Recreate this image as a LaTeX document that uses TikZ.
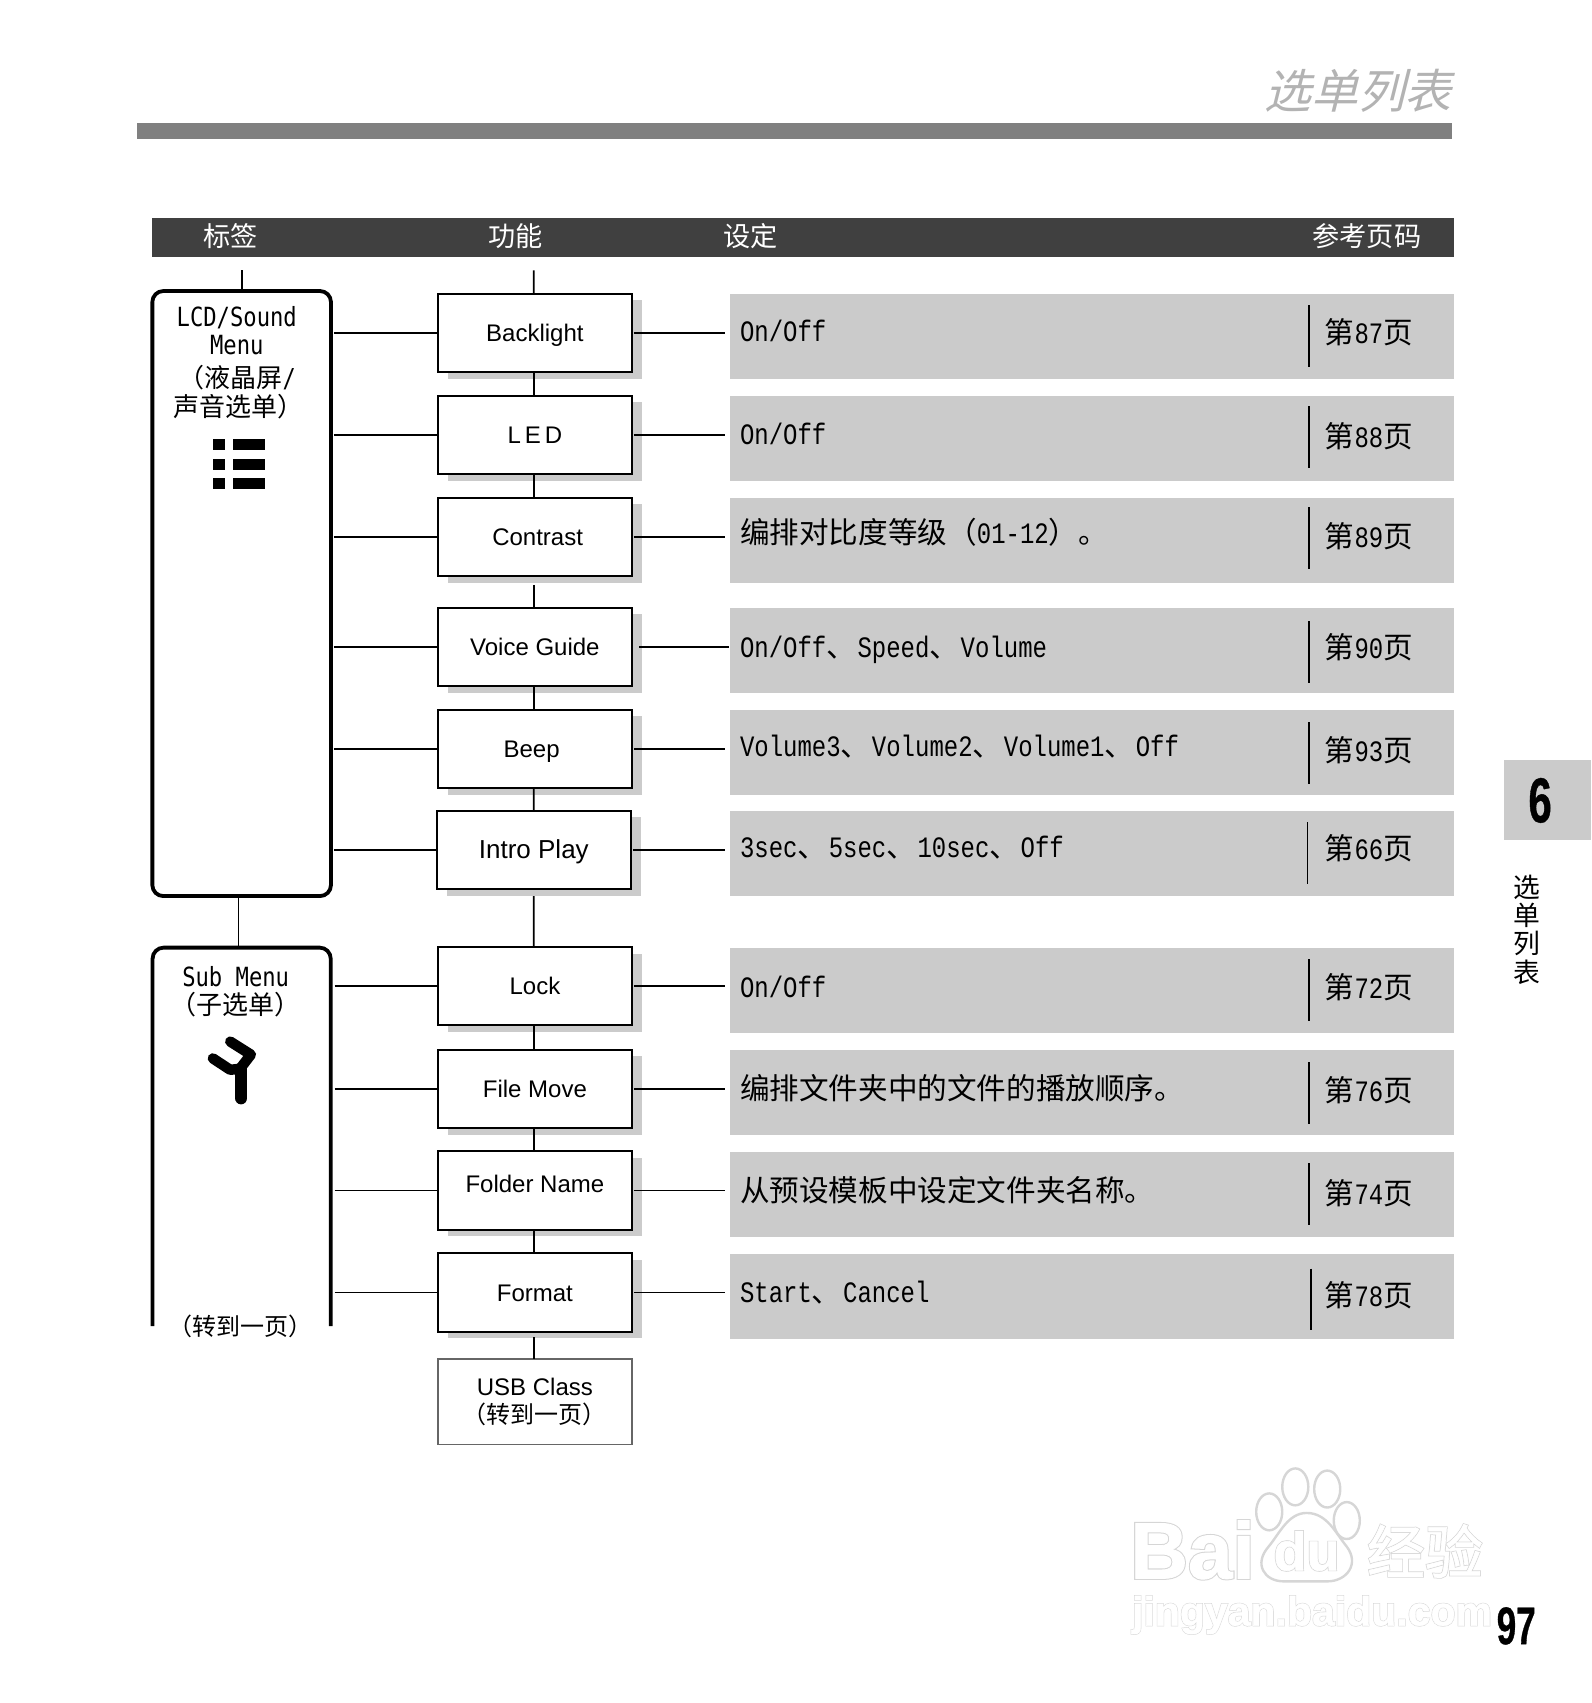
\documentclass[tikz,border=0pt]{standalone}
\usepackage{fontspec}
\usepackage{xcolor}
\usetikzlibrary{positioning,shadows}
\setmainfont{Liberation Sans}
\newfontfamily\cjkfont{Noto Sans CJK SC}
\newfontfamily\slantfont[FakeSlant=0.25]{Noto Sans CJK SC}
\newfontfamily\rowfont[FakeStretch=0.81]{Liberation Mono}
\newfontfamily\sidefont[FakeStretch=0.84]{DejaVu Sans Mono}
\newfontfamily\narrowfont[FakeStretch=0.66,FakeBold=0.6]{Liberation Sans Bold}
\newfontfamily\markfat[FakeBold=3.6]{Liberation Sans Bold}
\newfontfamily\markthin[FakeBold=1]{Liberation Sans Bold}
\newfontfamily\markcjkfat[FakeBold=3.6]{Noto Sans CJK SC}
\newfontfamily\markcjkthin[FakeBold=1]{Noto Sans CJK SC}
\definecolor{headgray}{HTML}{404040}
\definecolor{bargray}{HTML}{808080}
\definecolor{titlegray}{HTML}{B3B3B3}
\definecolor{rowgray}{HTML}{CBCBCB}
\definecolor{usbgray}{HTML}{666666}
\definecolor{markgray}{HTML}{D6D6D6}
\newcommand{\dun}{{\cjkfont 、}\hspace{0.8pt}}
\newcommand{\pg}[1]{\cjkfont 第{\rowfont #1}页}
\tikzset{
  conn/.style={line width=0.85pt},
  menubox/.style={draw,line width=1.9pt,rounded corners=5.5pt,inner sep=0pt,outer sep=0pt,minimum width=89.3pt},
  funcbox/.style={draw,fill=white,line width=1.05pt,inner sep=0pt,outer sep=0pt,minimum width=97pt,minimum height=39.2pt,
    text height=8.6pt,text depth=0pt,font=\fontsize{12}{14}\selectfont,
    general shadow={fill=rowgray,shadow xshift=4.9pt,shadow yshift=-3.3pt}},
  rowbox/.style={fill=rowgray,inner sep=0pt,outer sep=0pt,minimum width=362.2pt,minimum height=42.4pt},
  rowtext/.style={anchor=west,inner sep=0pt,text height=10pt,text depth=0pt,font=\fontsize{14.8}{18}\selectfont\rowfont},
  pagetext/.style={anchor=west,inner sep=0pt,text height=10pt,text depth=0pt,font=\fontsize{14.8}{18}\selectfont},
  pageline/.style={line width=0.8pt},
  headtext/.style={text=white,inner sep=0pt,font=\fontsize{13.6}{16}\selectfont\cjkfont},
  sidetext/.style={inner sep=0pt,text height=10pt,text depth=0pt,font=\fontsize{13.2}{16}\selectfont\sidefont},
  sidecjk/.style={anchor=west,inner sep=0pt,font=\fontsize{13}{16}\selectfont\cjkfont},
  fatmark/.style={text=markgray,inner sep=0pt},
  thinmark/.style={text=white,inner sep=0pt}
}
\begin{document}
\begin{tikzpicture}[x=0.543pt,y=-0.543pt]
  \useasboundingbox (0,0) rectangle (1465,1568);
  % page title and header
  \node[anchor=east,inner sep=0pt,text=titlegray,font=\fontsize{23.4}{26}\selectfont\slantfont] (pagetitle) at (1337,84) {选单列表};
  \fill[bargray] (126,113) rectangle (1337,128);
  \fill[headgray] (140,201) rectangle (1339,237);
  \node[headtext] (headtab) at (212,217) {标签};
  \node[headtext] (headfunc) at (475,217) {功能};
  \node[headtext] (headset) at (691,217) {设定};
  \node[headtext] (headpage) at (1258.5,217) {参考页码};

  % left menus
  \node[menubox,minimum height=302.5pt] (lcd) at (222.5,546.5) {};
  \draw[line width=1.9pt,rounded corners=5.5pt] (140.5,1221) -- (140.5,872.5) -- (304.5,872.5) -- (304.5,1221);
  \coordinate (tabtick) at (222.5,249);
  \coordinate (functick) at (491.5,249);
  \coordinate (subtop) at (219.5,872);
  \coordinate (subedge) at (308,907);
  \draw[conn] (tabtick) -- (lcd.north -| tabtick);
  \draw[conn] (lcd.south -| subtop) -- (subtop);

  \node[sidetext] (lcdA) at (218,291) {LCD/Sound};
  \node[sidetext] (lcdB) at (218,317) {Menu};
  \node[sidecjk] (lcdC) at (164,348) {（液晶屏{\sidefont /}};
  \node[sidecjk] (lcdD) at (159,374) {声音选单）};
  \fill (196,404) rectangle (207.5,414);
  \fill (214.5,404) rectangle (244,414);
  \fill (196,423) rectangle (207.5,433);
  \fill (214.5,423) rectangle (244,433);
  \fill (196,440) rectangle (207.5,450);
  \fill (214.5,440) rectangle (244,450);

  \node[sidetext] (subA) at (217,899) {Sub Menu};
  \node[sidecjk] (subB) at (157,925) {（子选单）};
  \draw[line width=5.2pt,line cap=round,line join=round] (212,959) -- (231,971) -- (221,984) -- (212,985) -- (196,974.5);
  \draw[line width=6.3pt,line cap=round] (222,984) -- (222,1011);
  \node[sidecjk,font=\fontsize{12}{14}\selectfont\cjkfont] (subC) at (155,1221) {（转到一页）};

  % function boxes
  \node[funcbox] (backlight) at (492.5,306.5) {Backlight};
  \node[funcbox] (led) at (492.5,400.5) {L\,E\,D};
  \node[funcbox] (contrast) at (492.5,494.5) {\hspace*{2.7pt}Contrast};
  \node[funcbox] (voice) at (492.5,595.5) {Voice Guide};
  \node[funcbox] (beep) at (492.5,689.5) {Beep\hspace*{3.3pt}};
  \node[funcbox,font=\fontsize{13}{15}\selectfont] (intro) at (491.5,782.5) {Intro Play};
  \node[funcbox] (lock) at (492.5,908) {Lock};
  \node[funcbox] (filemove) at (492.5,1002.5) {File Move};
  \node[funcbox,text depth=6.6pt] (folder) at (492.5,1096) {Folder Name};
  \node[funcbox] (format) at (492.5,1190) {Format};
  \node[draw=usbgray,line width=0.9pt,inner sep=0pt,outer sep=0pt,minimum width=97pt,minimum height=42.9pt,align=center,
    font=\fontsize{12}{14}\selectfont] (usb) at (492.5,1290.5) {USB Class\\{\cjkfont （转到一页）}};

  % vertical links
  \draw[conn] (functick) -- ([xshift=-0.54pt]backlight.north);
  \draw[conn] ([xshift=-0.54pt]backlight.south) -- ([xshift=-0.54pt]led.north);
  \draw[conn] ([xshift=-0.54pt]led.south) -- ([xshift=-0.54pt]contrast.north);
  \draw[conn] ([xshift=-0.54pt,yshift=-4.3pt]contrast.south) -- ([xshift=-0.54pt]voice.north);
  \draw[conn] ([xshift=-0.54pt]voice.south) -- ([xshift=-0.54pt]beep.north);
  \draw[conn] ([xshift=-0.54pt]beep.south) -- (intro.north);
  \draw[conn] ([yshift=-3.5pt]intro.south) -- ([xshift=-0.54pt]lock.north);
  \draw[conn] ([xshift=-0.54pt]lock.south) -- ([xshift=-0.54pt]filemove.north);
  \draw[conn] ([xshift=-0.54pt]filemove.south) -- ([xshift=-0.54pt]folder.north);
  \draw[conn] ([xshift=-0.54pt]folder.south) -- ([xshift=-0.54pt]format.north);
  \draw[conn] ([xshift=-0.54pt,yshift=-2.7pt]format.south) -- ([xshift=-0.54pt]usb.north);

  % links from the menus
  \draw[conn] ([xshift=1.5pt]lcd.east |- backlight.west) -- (backlight.west);
  \draw[conn] ([xshift=1.5pt]lcd.east |- led.west) -- (led.west);
  \draw[conn] ([xshift=1.5pt]lcd.east |- contrast.west) -- (contrast.west);
  \draw[conn] ([xshift=1.5pt]lcd.east |- voice.west) -- (voice.west);
  \draw[conn] ([xshift=1.5pt]lcd.east |- beep.west) -- (beep.west);
  \draw[conn] ([xshift=1.5pt]lcd.east |- intro.west) -- (intro.west);
  \draw[conn] (subedge |- lock.west) -- (lock.west);
  \draw[conn] (subedge |- filemove.west) -- (filemove.west);
  \draw[conn] (subedge |- folder.west) -- (folder.west);
  \draw[conn] (subedge |- format.west) -- (format.west);

  % settings rows
  \node[rowbox] (rowA) at (1005.5,310) {};
  \node[rowbox] (rowB) at (1005.5,403.5) {};
  \node[rowbox] (rowC) at (1005.5,497.5) {};
  \node[rowbox] (rowD) at (1005.5,599) {};
  \node[rowbox] (rowE) at (1005.5,693) {};
  \node[rowbox] (rowF) at (1005.5,786) {};
  \node[rowbox] (rowG) at (1005.5,912) {};
  \node[rowbox] (rowH) at (1005.5,1006) {};
  \node[rowbox] (rowI) at (1005.5,1100) {};
  \node[rowbox] (rowJ) at (1005.5,1194) {};

  \draw[conn] ([xshift=1pt]backlight.east) -- ([xshift=-2.4pt]rowA.west |- backlight.east);
  \draw[conn] ([xshift=1pt]led.east) -- ([xshift=-2.4pt]rowB.west |- led.east);
  \draw[conn] ([xshift=1pt]contrast.east) -- ([xshift=-2.4pt]rowC.west |- contrast.east);
  \draw[conn] ([xshift=3.7pt]voice.east) -- ([xshift=-0.3pt]rowD.west |- voice.east);
  \draw[conn] ([xshift=1pt]beep.east) -- ([xshift=-2.4pt]rowE.west |- beep.east);
  \draw[conn] ([xshift=1pt]intro.east) -- ([xshift=-2.4pt]rowF.west |- intro.east);
  \draw[conn] ([xshift=1pt]lock.east) -- ([xshift=-2.4pt]rowG.west |- lock.east);
  \draw[conn] ([xshift=1pt]filemove.east) -- ([xshift=-2.4pt]rowH.west |- filemove.east);
  \draw[conn] ([xshift=1pt]folder.east) -- ([xshift=-2.4pt]rowI.west |- folder.east);
  \draw[conn] ([xshift=1pt]format.east) -- ([xshift=-2.4pt]rowJ.west |- format.east);

  \node[rowtext] (setA) at (681,305) {On/Off};
  \node[rowtext] (setB) at (681,400) {On/Off};
  \node[rowtext] (setC) at (681,491) {{\cjkfont 编排对比度等级（}01-12{\cjkfont ）。}};
  \node[rowtext] (setD) at (681,596) {On/Off\dun Speed\dun Volume};
  \node[rowtext] (setE) at (681,687) {Volume3\dun Volume2\dun Volume1\dun Off};
  \node[rowtext] (setF) at (681,780) {3sec\dun 5sec\dun 10sec\dun Off};
  \node[rowtext] (setG) at (681,909) {On/Off};
  \node[rowtext] (setH) at (681,1003) {{\cjkfont 编排文件夹中的文件的播放顺序。}};
  \node[rowtext] (setI) at (681,1097) {{\cjkfont 从预设模板中设定文件夹名称。}};
  \node[rowtext] (setJ) at (681,1190) {Start\dun Cancel};

  \draw[pageline] (1205,281) -- (1205,338);
  \draw[pageline] (1205,374) -- (1205,431);
  \draw[pageline] (1205,467) -- (1205,524);
  \draw[pageline] (1205,572) -- (1205,629);
  \draw[pageline] (1205,665) -- (1205,722);
  \draw[pageline] (1204,757) -- (1204,814);
  \draw[pageline] (1205,883) -- (1205,940);
  \draw[pageline] (1205,978) -- (1205,1035);
  \draw[pageline] (1205,1071) -- (1205,1128);
  \draw[pageline] (1207,1168) -- (1207,1225);

  \node[pagetext] (pageA) at (1219.5,307) {\pg{87}};
  \node[pagetext] (pageB) at (1219.5,403) {\pg{88}};
  \node[pagetext] (pageC) at (1219.5,495) {\pg{89}};
  \node[pagetext] (pageD) at (1219.5,597) {\pg{90}};
  \node[pagetext] (pageE) at (1219.5,692) {\pg{93}};
  \node[pagetext] (pageF) at (1219.5,782) {\pg{66}};
  \node[pagetext] (pageG) at (1219.5,910) {\pg{72}};
  \node[pagetext] (pageH) at (1219.5,1005) {\pg{76}};
  \node[pagetext] (pageI) at (1219.5,1100) {\pg{74}};
  \node[pagetext] (pageJ) at (1219.5,1194) {\pg{78}};

  % chapter tab
  \fill[rowgray] (1385,700) rectangle (1465,773);
  \node[inner sep=0pt,font=\fontsize{31.8}{34}\selectfont\narrowfont] (chapter) at (1418,737) {6};
  \node[inner sep=0pt,align=center,font=\fontsize{13.4}{14.1}\selectfont\cjkfont] (chaptitle) at (1406,856) {选\\单\\列\\表};

  % watermark
  \fill[white,draw=markgray,line width=1.2pt] (1203,1393) .. controls (1222,1393) and (1230,1412) .. (1240,1424) .. controls (1252,1440) and (1240,1456) .. (1222,1456)
    -- (1182,1456) .. controls (1164,1456) and (1154,1440) .. (1168,1424) .. controls (1178,1412) and (1186,1393) .. (1203,1393) -- cycle;
  \draw[markgray,fill=white,line width=1.2pt] (1192.6,1369) ellipse (12 and 17);
  \draw[markgray,fill=white,line width=1.2pt] (1222,1371) ellipse (12 and 17);
  \draw[markgray,fill=white,line width=1.2pt] (1168.6,1392) ellipse (12 and 17);
  \draw[markgray,fill=white,line width=1.2pt] (1240,1400) ellipse (12 and 17);
  \node[fatmark,font=\fontsize{40}{44}\selectfont\markfat] (markA) at (1098,1427) {Bai};
  \node[thinmark,font=\fontsize{40}{44}\selectfont\markthin] (markB) at (markA) {Bai};
  \node[fatmark,font=\fontsize{27}{30}\selectfont\markfat] (markC) at (1203,1428) {du};
  \node[thinmark,font=\fontsize{27}{30}\selectfont\markthin] (markD) at (markC) {du};
  \node[fatmark,font=\fontsize{29}{32}\selectfont\markcjkfat] (markE) at (1312,1428) {经验};
  \node[thinmark,font=\fontsize{29}{32}\selectfont\markcjkthin] (markF) at (markE) {经验};
  \node[fatmark,font=\fontsize{20.5}{24}\selectfont\markfat] (markG) at (1208,1487) {jingyan.baidu.com};
  \node[thinmark,font=\fontsize{20.5}{24}\selectfont\markthin] (markH) at (markG) {jingyan.baidu.com};
  \node[inner sep=0pt,font=\fontsize{26.5}{30}\selectfont\narrowfont] (pagenum) at (1396,1497) {97};
\end{tikzpicture}
\end{document}
